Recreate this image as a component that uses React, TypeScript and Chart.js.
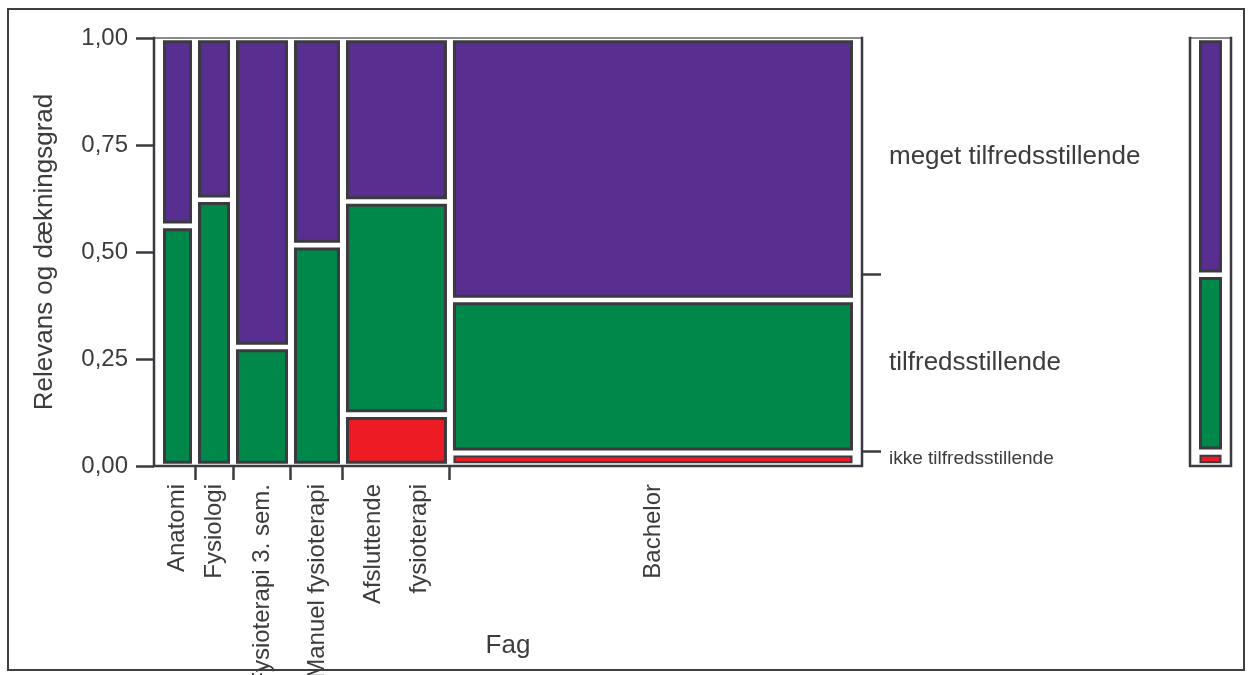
import React, { useEffect, useRef } from 'react';
import { Chart, registerables } from 'chart.js';

Chart.register(...registerables);

// ---------- data ----------
const categories: (string | string[])[] = [
  'Anatomi',
  'Fysiologi',
  'Fysioterapi 3. sem.',
  'Manuel fysioterapi',
  ['Afsluttende', 'fysioterapi'],
  'Bachelor',
];
// share of respondents per subject (column widths)
const columnShare = [0.0503, 0.0546, 0.0833, 0.0747, 0.1537, 0.5834];
// conditional shares per subject (bottom to top)
const ikkeShare = [0, 0, 0, 0, 0.12, 0.031];
const tilfredsShare = [0.561, 0.622, 0.278, 0.516, 0.498, 0.357];
const megetShare = [0.439, 0.378, 0.722, 0.484, 0.382, 0.612];
// overall (marginal) shares, bottom to top
const marginalShare = [0.033, 0.414, 0.553];

const levelNames = ['ikke tilfredsstillende', 'tilfredsstillende', 'meget tilfredsstillende'];
const levelColors = ['#ED1C24', '#00874A', '#582F91'];

const yTickValues = [0, 0.25, 0.5, 0.75, 1];
const yTickLabels = ['0,00', '0,25', '0,50', '0,75', '1,00'];
const xTitle = 'Fag';
const yTitle = 'Relevans og dækningsgrad';

// ---------- styling / geometry ----------
const FAMILY = "'Liberation Sans', Arial, Helvetica, sans-serif";
const TEXT = '#3c3c3c';
const EDGE = '#3b3a40';
const CAT_FONT = 24;
const CAT_LH = 1.9;

const W = 1236;
const H = 667;
const AREA_LEFT = 146;
const AREA_RIGHT = 854;
const AREA_TOP = 30;
const AREA_BOTTOM = 458;
const PAD_X = 6; // px between frame and first/last column
const PX_X = AREA_RIGHT - AREA_LEFT - 2 * PAD_X; // px per unit on x
const PX_Y = AREA_BOTTOM - AREA_TOP; // px per unit on y
const INSET_X = 4.5;
const INSET_Y = 3.8;

const MW = 65;
const M_LEFT = 10;
const M_RIGHT = 14;
const M_PX_X = MW - M_LEFT - M_RIGHT - 2 * PAD_X;

Chart.defaults.font.family = FAMILY;

type Pt = { x: number; y: number };
function rectPoly(x0: number, x1: number, y0: number, y1: number, ix: number, iy: number): Pt[] {
  return [
    { x: x0 + ix, y: y0 + iy },
    { x: x1 - ix, y: y0 + iy },
    { x: x1 - ix, y: y1 - iy },
    { x: x0 + ix, y: y1 - iy },
    { x: x0 + ix, y: y0 + iy },
  ];
}

function cellDataset(poly: Pt[], color: string, label: string, thin: boolean) {
  return {
    label,
    data: poly,
    showLine: true,
    fill: 'shape',
    backgroundColor: color,
    borderColor: EDGE,
    borderWidth: thin ? 2 : 3,
    borderJoinStyle: 'miter',
    borderCapStyle: 'square',
    tension: 0,
    pointRadius: 0,
    pointHoverRadius: 0,
    pointHitRadius: 0,
    xAxisID: 'x',
    yAxisID: 'y',
  };
}

const framePlugin = {
  id: 'plotFrame',
  afterDraw(chart: any) {
    const { ctx, chartArea } = chart;
    const { left, right, top, bottom } = chartArea;
    ctx.save();
    ctx.lineCap = 'square';
    ctx.strokeStyle = '#8a8a8a';
    ctx.lineWidth = 2;
    ctx.beginPath();
    ctx.moveTo(left, top);
    ctx.lineTo(right, top);
    ctx.stroke();
    ctx.strokeStyle = EDGE;
    ctx.lineWidth = 2.5;
    ctx.beginPath();
    ctx.moveTo(left, top);
    ctx.lineTo(left, bottom);
    ctx.lineTo(right, bottom);
    ctx.lineTo(right, top);
    ctx.stroke();
    ctx.restore();
  },
};

export default function App() {
  const mainRef = useRef<HTMLCanvasElement>(null);
  const margRef = useRef<HTMLCanvasElement>(null);

  useEffect(() => {
    const levels = [ikkeShare, tilfredsShare, megetShare];
    const ix = INSET_X / PX_X;
    const iy = INSET_Y / PX_Y;

    // column boundaries
    const bounds: number[] = [0];
    columnShare.forEach((w) => bounds.push(bounds[bounds.length - 1] + w));

    const datasets: any[] = [];
    categories.forEach((cat, i) => {
      let y0 = 0;
      levels.forEach((lv, j) => {
        const h = lv[i];
        if (h > 0) {
          datasets.push(
            cellDataset(
              rectPoly(bounds[i], bounds[i + 1], y0, y0 + h, ix, iy),
              levelColors[j],
              `${levelNames[j]} ${i}`,
              h * PX_Y < 16
            )
          );
        }
        y0 += h;
      });
    });

    // x ticks: tick marks at inner boundaries, labels at column centres
    const xTicks: { value: number; label: string | string[] }[] = [];
    categories.forEach((cat, i) => {
      const lines = Array.isArray(cat) ? cat.length : 1;
      const centre = (bounds[i] + bounds[i + 1]) / 2;
      const shift = ((lines - 1) * CAT_FONT * CAT_LH) / 2 / PX_X;
      xTicks.push({ value: centre - shift, label: cat });
      if (i < categories.length - 1) xTicks.push({ value: bounds[i + 1], label: '' });
    });

    // right axis: tick marks at marginal boundaries, labels at marginal mid points
    const rightTicks: { value: number; label: string; small: boolean }[] = [];
    let acc = 0;
    marginalShare.forEach((s, j) => {
      rightTicks.push({ value: acc + s / 2, label: levelNames[j], small: s < 0.1 });
      acc += s;
      if (j < marginalShare.length - 1) rightTicks.push({ value: acc, label: '', small: false });
    });

    const xMin = -PAD_X / PX_X;
    const xMax = 1 + PAD_X / PX_X;

    const main = new Chart(mainRef.current!, {
      type: 'scatter',
      data: { datasets },
      plugins: [framePlugin],
      options: {
        responsive: false,
        animation: false,
        events: [],
        layout: { padding: { top: AREA_TOP, left: 0, right: 0, bottom: 0 } },
        plugins: { legend: { display: false }, tooltip: { enabled: false } },
        scales: {
          x: {
            type: 'linear',
            position: 'bottom',
            min: xMin,
            max: xMax,
            afterBuildTicks: (s: any) => {
              s.ticks = xTicks.map((t) => ({ value: t.value }));
            },
            afterFit: (s: any) => {
              s.height = H - AREA_BOTTOM;
            },
            ticks: {
              autoSkip: false,
              minRotation: 90,
              maxRotation: 90,
              padding: 4,
              color: TEXT,
              font: { family: FAMILY, size: CAT_FONT, lineHeight: CAT_LH },
              callback: (_v: any, i: number) => xTicks[i]?.label ?? '',
            },
            grid: {
              drawOnChartArea: false,
              tickLength: 14,
              tickWidth: 2.5,
              tickColor: (ctx: any) => (xTicks[ctx.index]?.label ? 'rgba(0,0,0,0)' : EDGE),
            },
            border: { display: false },
            title: {
              display: true,
              text: xTitle,
              color: TEXT,
              font: { family: FAMILY, size: 26, lineHeight: 1.2 },
              padding: { top: 0, bottom: 14 },
            },
          },
          y: {
            type: 'linear',
            position: 'left',
            min: 0,
            max: 1,
            afterBuildTicks: (s: any) => {
              s.ticks = yTickValues.map((v) => ({ value: v }));
            },
            afterFit: (s: any) => {
              s.width = AREA_LEFT;
            },
            ticks: {
              color: TEXT,
              font: { family: FAMILY, size: 24 },
              padding: 8,
              callback: (_v: any, i: number) => yTickLabels[i] ?? '',
            },
            grid: { drawOnChartArea: false, tickLength: 18, tickWidth: 2.5, tickColor: EDGE },
            border: { display: false },
            title: {
              display: true,
              text: yTitle,
              color: TEXT,
              font: { family: FAMILY, size: 26, lineHeight: 1.2 },
              padding: { top: 21, bottom: 0 },
            },
          },
          y2: {
            type: 'linear',
            position: 'right',
            min: 0,
            max: 1,
            afterBuildTicks: (s: any) => {
              s.ticks = rightTicks.map((t) => ({ value: t.value }));
            },
            afterFit: (s: any) => {
              s.width = W - AREA_RIGHT;
            },
            ticks: {
              color: TEXT,
              padding: 8,
              font: (ctx: any) => ({ family: FAMILY, size: rightTicks[ctx?.index]?.small ? 19 : 26 }),
              callback: (_v: any, i: number) => rightTicks[i]?.label ?? '',
            },
            grid: {
              drawOnChartArea: false,
              tickLength: 19,
              tickWidth: 2.5,
              tickColor: (ctx: any) => (rightTicks[ctx.index]?.label ? 'rgba(0,0,0,0)' : EDGE),
            },
            border: { display: false },
          },
        },
      } as any,
    });

    // marginal bar
    const mix = INSET_X / M_PX_X;
    const mDatasets: any[] = [];
    let m0 = 0;
    marginalShare.forEach((s, j) => {
      mDatasets.push(cellDataset(rectPoly(0, 1, m0, m0 + s, mix, iy), levelColors[j], levelNames[j], s * PX_Y < 16));
      m0 += s;
    });
    const marg = new Chart(margRef.current!, {
      type: 'scatter',
      data: { datasets: mDatasets },
      plugins: [framePlugin],
      options: {
        responsive: false,
        animation: false,
        events: [],
        layout: { padding: { top: AREA_TOP, left: M_LEFT, right: M_RIGHT, bottom: H - AREA_BOTTOM } },
        plugins: { legend: { display: false }, tooltip: { enabled: false } },
        scales: {
          x: { type: 'linear', display: false, min: -PAD_X / M_PX_X, max: 1 + PAD_X / M_PX_X },
          y: { type: 'linear', display: false, min: 0, max: 1 },
        },
      } as any,
    });

    return () => {
      main.destroy();
      marg.destroy();
    };
  }, []);

  return (
    <div style={{ position: 'fixed', left: 0, top: 0, width: 1252, height: 675, overflow: 'hidden', background: '#fff' }}>
      <div
        style={{
          position: 'absolute',
          left: 7,
          top: 8,
          width: 1238,
          height: 663,
          border: '2px solid #3f3f3f',
          boxSizing: 'border-box',
        }}
      />
      <canvas
        ref={mainRef}
        width={W}
        height={H}
        style={{ position: 'absolute', left: 8, top: 8, width: W, height: H }}
      />
      <canvas
        ref={margRef}
        width={MW}
        height={H}
        style={{ position: 'absolute', left: 1180, top: 8, width: MW, height: H }}
      />
    </div>
  );
}
